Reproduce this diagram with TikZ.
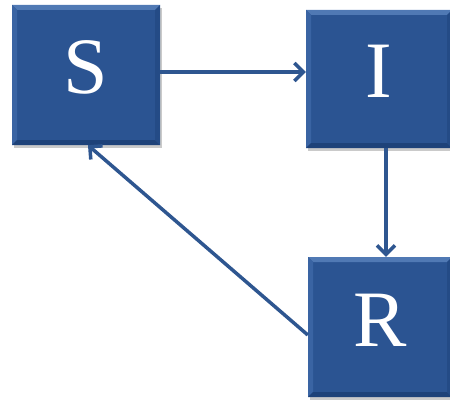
\documentclass[tikz,border=0pt]{standalone}
\usepackage{fontspec}
\setmainfont{Liberation Serif}
\usetikzlibrary{arrows.meta,shadows,calc}
\definecolor{boxmain}{HTML}{2B5492}
\definecolor{boxtop}{HTML}{5079B4}
\definecolor{boxleft}{HTML}{3A64A3}
\definecolor{boxbottom}{HTML}{1E4279}
\definecolor{boxright}{HTML}{244B86}
\definecolor{arrowcol}{HTML}{2E5690}
\tikzset{
  statebox/.style={rectangle, fill=boxmain, text=white,
    font=\fontsize{80pt}{80pt}\selectfont,
    text height=53pt, text depth=15pt, inner sep=0pt,
    drop shadow={shadow xshift=2pt, shadow yshift=-3pt, opacity=0.35, fill=black!60},
    path picture={
      \fill[boxtop] (path picture bounding box.north west) -- (path picture bounding box.north east)
        -- ([shift={(-5pt,-5pt)}]path picture bounding box.north east)
        -- ([shift={(5pt,-5pt)}]path picture bounding box.north west) -- cycle;
      \fill[boxleft] (path picture bounding box.north west) -- (path picture bounding box.south west)
        -- ([shift={(5pt,5pt)}]path picture bounding box.south west)
        -- ([shift={(5pt,-5pt)}]path picture bounding box.north west) -- cycle;
      \fill[boxbottom] (path picture bounding box.south west) -- (path picture bounding box.south east)
        -- ([shift={(-5pt,5pt)}]path picture bounding box.south east)
        -- ([shift={(5pt,5pt)}]path picture bounding box.south west) -- cycle;
      \fill[boxright] (path picture bounding box.north east) -- (path picture bounding box.south east)
        -- ([shift={(-5pt,5pt)}]path picture bounding box.south east)
        -- ([shift={(-5pt,-5pt)}]path picture bounding box.north east) -- cycle;
    }},
  flow/.style={draw=arrowcol, line width=3.5pt, -{Straight Barb[length=9pt,width=18pt,line width=3.5pt]}}
}
\begin{document}
\begin{tikzpicture}[x=1pt,y=1pt]
\useasboundingbox (0,0) rectangle (450,400);
\node[statebox, minimum width=148pt, minimum height=140pt] (S) at (86,325) {S};
\node[statebox, minimum width=146pt, minimum height=138pt] (I) at (379,321) {I};
\node[statebox, minimum width=144pt, minimum height=140pt] (R) at (380,73) {R};
\draw[flow] ([yshift=3pt]S.east) -- ([yshift=3pt]S.east -| I.west);
\draw[flow] ([xshift=7pt]I.south) -- ([xshift=7pt]I.south |- R.north);
\draw[flow] ([yshift=-8pt]R.west) -- ([xshift=2pt]S.south);
\end{tikzpicture}
\end{document}
